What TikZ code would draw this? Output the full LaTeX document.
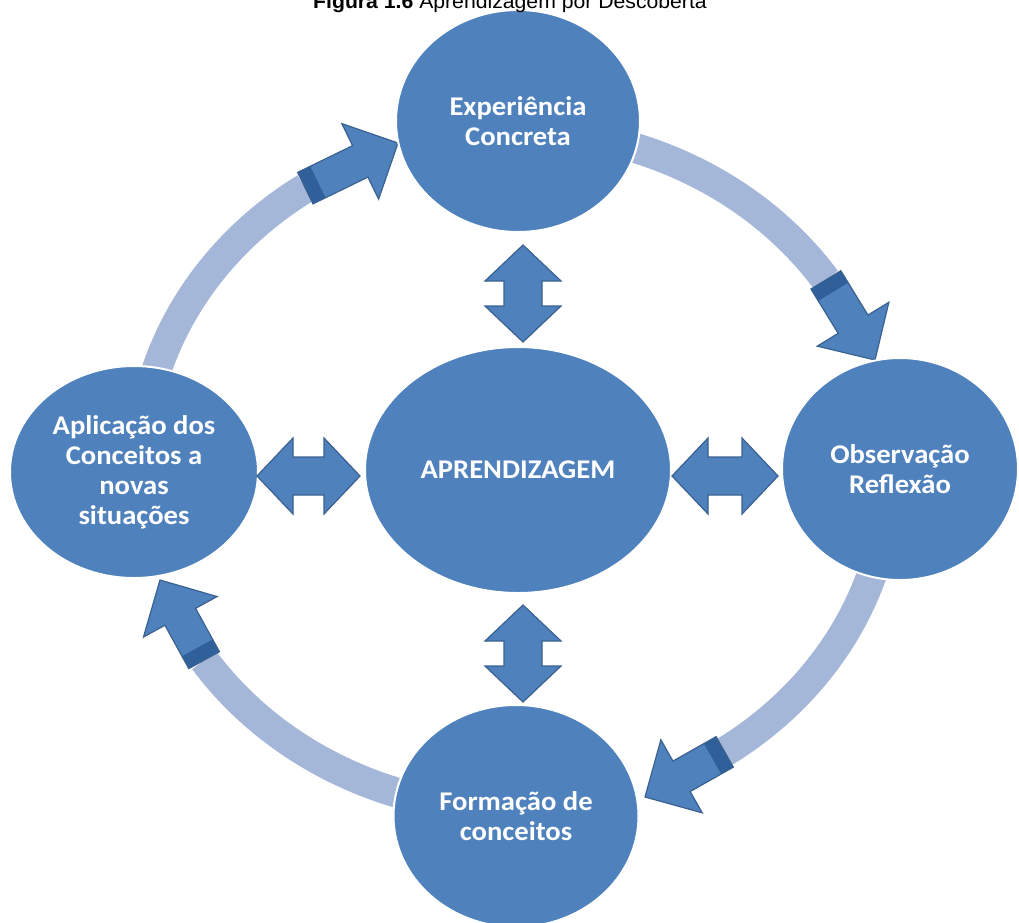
\documentclass[tikz,border=0pt]{standalone}
\usepackage{fontspec}
\newfontfamily\labelfont{Carlito}[FakeStretch=1.06]
\newfontfamily\titlefont{Liberation Sans}[FakeStretch=1.06]
\usetikzlibrary{calc,shapes.geometric}
\definecolor{disc}{HTML}{4F81BD}
\definecolor{ring}{HTML}{A4B7D9}
\definecolor{arrowedge}{HTML}{3A6190}
\definecolor{band}{HTML}{30609A}

% cycle ring (ellipse through the four stages)
\def\ringcx{515}\def\ringcy{470}\def\ringrx{375}\def\ringry{340}

% straight arrow that continues a ring arc: #1 = start, #2 = tip
\newcommand\cyclearrow[2]{%
  \fill[disc] ($(#1)!17.5pt!90:(#2)$) -- ($(#2)!42pt!(#1)!17.5pt!-90:(#1)$)
    -- ($(#2)!42pt!(#1)!42pt!-90:(#1)$) -- (#2)
    -- ($(#2)!42pt!(#1)!42pt!90:(#1)$) -- ($(#2)!42pt!(#1)!17.5pt!90:(#1)$)
    -- ($(#1)!17.5pt!-90:(#2)$) -- cycle;
  \fill[band] ($(#1)!17.5pt!90:(#2)$) -- ($(#1)!14pt!(#2)!17.5pt!90:(#2)$)
    -- ($(#1)!14pt!(#2)!17.5pt!-90:(#2)$) -- ($(#1)!17.5pt!-90:(#2)$) -- cycle;
  \draw[arrowedge, line width=1.2pt, line join=miter] ($(#1)!17.5pt!90:(#2)$) -- ($(#2)!42pt!(#1)!17.5pt!-90:(#1)$)
    -- ($(#2)!42pt!(#1)!42pt!-90:(#1)$) -- (#2)
    -- ($(#2)!42pt!(#1)!42pt!90:(#1)$) -- ($(#2)!42pt!(#1)!17.5pt!90:(#1)$)
    -- ($(#1)!17.5pt!-90:(#2)$) -- cycle;
}

% two-headed link between two points
\newcommand\twoway[2]{%
  \filldraw[fill=disc, draw=arrowedge, line width=1.2pt, line join=miter]
    (#1) -- ($(#1)!36pt!(#2)!38pt!90:(#2)$) -- ($(#1)!36pt!(#2)!19pt!90:(#2)$)
    -- ($(#2)!36pt!(#1)!19pt!-90:(#1)$) -- ($(#2)!36pt!(#1)!38pt!-90:(#1)$)
    -- (#2)
    -- ($(#2)!36pt!(#1)!38pt!90:(#1)$) -- ($(#2)!36pt!(#1)!19pt!90:(#1)$)
    -- ($(#1)!36pt!(#2)!19pt!-90:(#2)$) -- ($(#1)!36pt!(#2)!38pt!-90:(#2)$)
    -- cycle;
}

\begin{document}
\begin{tikzpicture}[x=1pt,y=-1pt,
  stage/.style={ellipse, fill=disc, draw=white, line width=2pt, inner sep=0pt,
    text=white, align=center,
    font=\labelfont\bfseries\fontsize{27}{30}\selectfont},
  ringline/.style={ring, line width=30pt, line cap=butt}]

\useasboundingbox (0,0) rectangle (1019,922);
\clip (0,0) rectangle (1019,922);
\fill[white] (0,0) rectangle (1019,922);

% ring arcs between the stages
\foreach \k in {0,1,2,3}{
  \draw[ringline] plot[smooth, domain={-80+90*\k}:{-34+90*\k}, samples=40]
    ({\ringcx+\ringrx*cos(\x)},{\ringcy+\ringry*sin(\x)});
}

% start and tip of each cycle arrow
\coordinate (s1) at ({\ringcx+\ringrx*cos(-34)},{\ringcy+\ringry*sin(-34)});
\coordinate (s2) at ({\ringcx+\ringrx*cos(56)},{\ringcy+\ringry*sin(56)});
\coordinate (s3) at ({\ringcx+\ringrx*cos(146)},{\ringcy+\ringry*sin(146)});
\coordinate (s4) at ({\ringcx+\ringrx*cos(236)},{\ringcy+\ringry*sin(236)});
\coordinate (t1) at (875,360);
\coordinate (t2) at (645,797);
\coordinate (t3) at (160,580);
\coordinate (t4) at (398,143);

\cyclearrow{s1}{t1}
\cyclearrow{s2}{t2}
\cyclearrow{s3}{t3}
\cyclearrow{s4}{t4}

% stages
\node[stage, minimum width=244pt, minimum height=222pt] (exp) at (518,121) {Experiência\\Concreta};
\node[stage, minimum width=236pt, minimum height=222pt] (obs) at (900,469) {Observação\\Reflexão};
\node[stage, minimum width=245pt, minimum height=222pt] (form) at (516,816) {Formação de\\conceitos};
\node[stage, minimum width=248pt, minimum height=212pt] (apl) at (134,472) {Aplicação dos\\Conceitos a\\novas\\situações};
\node[stage, minimum width=306pt, minimum height=246pt] (apr) at (518,470) {APRENDIZAGEM};

% links between the centre and each stage
\coordinate (uT) at (523,245); \coordinate (uB) at (523,342);
\coordinate (dT) at (523,605); \coordinate (dB) at (523,702);
\coordinate (lL) at (257,476); \coordinate (lR) at (360,476);
\coordinate (rL) at (672,476); \coordinate (rR) at (778,476);
\twoway{uT}{uB}
\twoway{dT}{dB}
\twoway{lL}{lR}
\twoway{rL}{rR}

% caption
\node[anchor=base, inner sep=0pt, font=\titlefont\fontsize{20}{24}\selectfont] (title) at (510,8)
  {\textbf{Figura 1.6} Aprendizagem por Descoberta};
\end{tikzpicture}
\end{document}
